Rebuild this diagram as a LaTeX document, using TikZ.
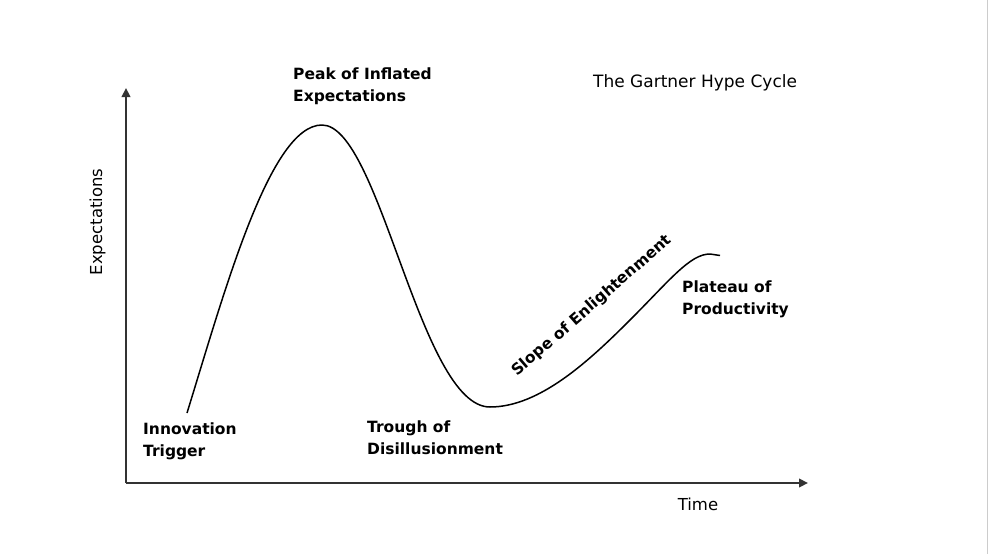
\documentclass[tikz,border=0pt]{standalone}
\usepackage{fontspec}
\setmainfont{DejaVu Sans}
\usepackage{tikz}
\usetikzlibrary{arrows.meta}

\definecolor{axisgray}{HTML}{333333}

\begin{document}
\begin{tikzpicture}[
  x=1pt, y=-1pt,
  axis/.style={line width=2.6pt, axisgray, line cap=butt,
    -{Triangle[length=9pt, width=8.5pt]}},
  hype/.style={line width=1.5pt, black, line join=round},
  phase/.style={font=\fontsize{15.5}{22}\selectfont\bfseries,
    align=left, inner sep=0pt},
  axislabel/.style={font=\fontsize{16.5}{20}\selectfont, inner sep=0pt},
  title/.style={font=\fontsize{17}{20}\selectfont, inner sep=0pt}
]
  % === Canvas ===
  \fill[white] (0,0) rectangle (988,554);
  \useasboundingbox (0,0) rectangle (988,554);
  \draw[gray!40, line width=1pt] (987.5,0) -- (987.5,554);

  % === Axes ===
  \coordinate (origin) at (126,483);
  \coordinate (ytop) at (126,88);
  \coordinate (xend) at (808,483);
  \draw[axis] (origin) -- (ytop);
  \draw[axis] (origin) -- (xend);

  \node[axislabel, rotate=90, anchor=base] (ylabel) at (102,222) {Expectations};
  \node[axislabel, anchor=base] (xlabel) at (698,510) {Time};

  % === Title ===
  \node[title, anchor=base west] (title) at (593,87) {The Gartner Hype Cycle};

  % === Hype curve ===
  \coordinate (start) at (187,413);
  \coordinate (top) at (322,125);
  \coordinate (bottom) at (490,407);
  \coordinate (rise) at (630,320);
  \coordinate (level) at (710,254);
  \coordinate (finish) at (720,255.5);
  \draw[hype] (start) .. controls (225,290) and (270,125) .. (top)
    .. controls (380,125) and (420,407) .. (bottom)
    .. controls (540,407) and (590,360) .. (rise)
    .. controls (670,280) and (690,254) .. (level)
    .. controls (715,254) .. (finish);

  % === Phases ===
  \node[phase, anchor=base west] (trigger) at (143,456) {Innovation\\Trigger};
  \node[phase, anchor=base west] (peak) at (293,101) {Peak of Inflated\\Expectations};
  \node[phase, anchor=base west] (trough) at (367,454) {Trough of\\Disillusionment};
  \node[phase, rotate=41] (slope) at (592,306) {Slope of Enlightenment};
  \node[phase, anchor=base west] (plateau) at (682,314) {Plateau of\\Productivity};
\end{tikzpicture}
\end{document}
